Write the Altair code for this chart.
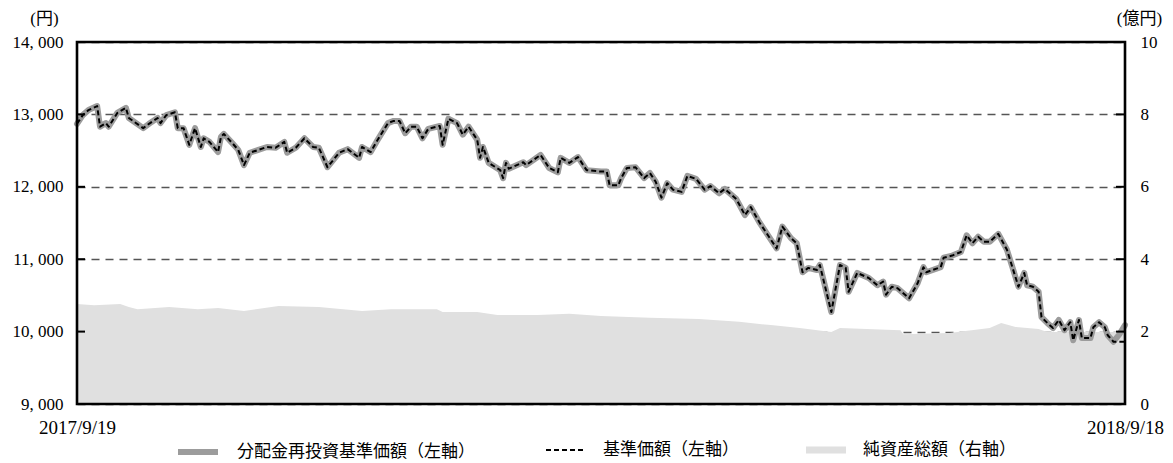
import altair as alt
import pandas as pd

START = pd.Timestamp("2017-09-19")

S1 = "分配金再投資基準価額（左軸）"
S2 = "基準価額（左軸）"
S3 = "純資産総額（右軸）"

# days since 2017/9/19
price_days = [0, 2, 4, 7, 8, 10, 11, 14, 17, 18,
              23, 25, 28, 29, 31, 34, 35, 37, 39, 41,
              43, 44, 46, 49, 50, 51, 54, 56, 58, 60,
              63, 66, 69, 72, 73, 76, 79, 82, 84, 87,
              91, 94, 98, 99, 102, 104, 108, 110, 112, 114,
              116, 118, 120, 122, 126, 127, 129, 132, 134, 136,
              139, 140, 141, 143, 147, 148, 149, 150, 155, 156,
              161, 164, 167, 168, 171, 174, 177, 182, 184, 185,
              188, 189, 191, 194, 197, 199, 201, 203, 205, 207,
              210, 212, 215, 218, 220, 223, 225, 229, 232, 234,
              237, 243, 245, 248, 250, 252, 254, 257, 258, 262,
              265, 267, 268, 271, 275, 278, 280, 281, 283, 285,
              289, 292, 294, 295, 300, 301, 304, 307, 309, 311,
              313, 315, 317, 320, 323, 327, 329, 330, 332, 334,
              335, 337, 339, 341, 343, 345, 346, 348, 349, 352,
              353, 355, 357, 358, 360, 362, 364]

base_price = [12870, 12990, 13060, 13115, 12830, 12880, 12830, 13020, 13090, 12950,
              12810, 12870, 12950, 12880, 12990, 13030, 12810, 12810, 12580, 12810,
              12550, 12670, 12620, 12480, 12690, 12730, 12600, 12510, 12300, 12470,
              12510, 12550, 12540, 12620, 12470, 12540, 12670, 12550, 12540, 12270,
              12470, 12520, 12400, 12550, 12480, 12620, 12880, 12910, 12910, 12740,
              12830, 12830, 12670, 12800, 12840, 12580, 12940, 12880, 12720, 12830,
              12650, 12400, 12550, 12330, 12230, 12120, 12330, 12250, 12340, 12300,
              12440, 12260, 12200, 12400, 12330, 12410, 12230, 12210, 12210, 12020,
              12020, 12120, 12260, 12270, 12120, 12190, 12070, 11850, 12050, 11960,
              11930, 12150, 12110, 11960, 12010, 11910, 11970, 11830, 11610, 11720,
              11510, 11150, 11450, 11290, 11220, 10820, 10880, 10850, 10920, 10270,
              10920, 10880, 10550, 10810, 10740, 10640, 10690, 10510, 10620, 10600,
              10460, 10670, 10890, 10820, 10890, 11020, 11050, 11100, 11330, 11220,
              11310, 11240, 11240, 11350, 11130, 10620, 10810, 10640, 10620, 10550,
              10200, 10120, 10050, 10160, 10020, 10130, 9880, 10160, 9910, 9910,
              10060, 10130, 10060, 9950, 9860, 9860, 9860]

reinvest_price = [12870, 12990, 13060, 13115, 12830, 12880, 12830, 13020, 13090, 12950,
                  12810, 12870, 12950, 12880, 12990, 13030, 12810, 12810, 12580, 12810,
                  12550, 12670, 12620, 12480, 12690, 12730, 12600, 12510, 12300, 12470,
                  12510, 12550, 12540, 12620, 12470, 12540, 12670, 12550, 12540, 12270,
                  12470, 12520, 12400, 12550, 12480, 12620, 12880, 12910, 12910, 12740,
                  12830, 12830, 12670, 12800, 12840, 12580, 12940, 12880, 12720, 12830,
                  12650, 12400, 12550, 12330, 12230, 12120, 12330, 12250, 12340, 12300,
                  12440, 12260, 12200, 12400, 12330, 12410, 12230, 12210, 12210, 12020,
                  12020, 12120, 12260, 12270, 12120, 12190, 12070, 11850, 12050, 11960,
                  11930, 12150, 12110, 11960, 12010, 11910, 11970, 11830, 11610, 11720,
                  11510, 11150, 11450, 11290, 11220, 10820, 10880, 10850, 10920, 10270,
                  10920, 10880, 10550, 10810, 10740, 10640, 10690, 10510, 10620, 10600,
                  10460, 10670, 10890, 10820, 10890, 11020, 11050, 11100, 11330, 11220,
                  11310, 11240, 11240, 11350, 11130, 10620, 10810, 10640, 10620, 10550,
                  10200, 10120, 10050, 10160, 10020, 10130, 9880, 10160, 9910, 9910,
                  10060, 10130, 10060, 9950, 9860, 9960, 10090]

net_days = [0, 6, 15, 18, 21, 32, 42, 49, 58, 70,
            84, 99, 109, 125, 127, 139, 146, 160, 171, 182,
            199, 216, 230, 241, 251, 262, 265, 286, 287, 303,
            317, 321, 326, 334, 337, 364]
net_assets = [2.76, 2.73, 2.76, 2.68, 2.62, 2.68, 2.62, 2.65, 2.57, 2.71,
              2.68, 2.57, 2.62, 2.62, 2.54, 2.54, 2.46, 2.46, 2.49, 2.43,
              2.38, 2.35, 2.27, 2.18, 2.10, 1.99, 2.10, 2.04, 1.93, 1.96,
              2.10, 2.24, 2.13, 2.07, 1.99, 1.99]

left_ticks = [9000, 10000, 11000, 12000, 13000, 14000]
right_ticks = [0, 2, 4, 6, 8, 10]

W, H = 1048, 362
SERIF = "Liberation Serif, Noto Sans CJK JP"
JP = "Noto Sans CJK JP"
LEG_Y = 387
GRAY, LIGHT = "#9c9c9c", "#e0e0e0"

price_dates = START + pd.to_timedelta(price_days, unit="D")
gray_df = pd.DataFrame({"date": price_dates, "value": reinvest_price, "series": S1})
base_df = pd.DataFrame({"date": price_dates, "value": base_price, "series": S2})
net_df = pd.DataFrame({"date": START + pd.to_timedelta(net_days, unit="D"),
                       "assets": net_assets, "series": S3})


def legend_at(x, **kw):
    return alt.Legend(title=None, orient="none", legendX=x, legendY=LEG_Y,
                      symbolSize=1600, labelOffset=16, labelFont=JP,
                      labelFontSize=17, labelColor="black", labelLimit=400,
                      padding=0, **kw)


x_axis = alt.Axis(values=[alt.DateTime(year=2017, month=9, date=19),
                          alt.DateTime(year=2018, month=9, date=18)],
                  format="%Y/%-m/%-d", ticks=False, domain=False, grid=False,
                  labelFont=SERIF, labelFontSize=19, labelPadding=14,
                  labelFlush=False, labelColor="black", title=None)
x_enc = alt.X("date:T", axis=x_axis,
              scale=alt.Scale(domain=[alt.DateTime(year=2017, month=9, date=19),
                                      alt.DateTime(year=2018, month=9, date=18)]))

left_scale = alt.Scale(domain=[9000, 14000], nice=False, zero=False)
right_scale = alt.Scale(domain=[0, 10], nice=False, zero=True)

left_axis = alt.Axis(values=left_ticks, orient="left",
                     labelExpr="replace(format(datum.value, ','), ',', ', ')",
                     ticks=False, domain=False, grid=True, gridDash=[8, 6],
                     gridColor="#555555", gridWidth=1.3, labelPadding=14,
                     labelFont=SERIF, labelFontSize=17, labelColor="black",
                     title="(円)", titleAngle=0, titleX=-33, titleY=-24,
                     titleAlign="center", titleBaseline="middle",
                     titleFont=SERIF, titleFontSize=17, titleFontWeight="normal",
                     titleColor="black")
right_axis = alt.Axis(values=right_ticks, orient="right", format="d",
                      ticks=False, domain=False, grid=False, labelPadding=15,
                      labelFont=SERIF, labelFontSize=17, labelColor="black",
                      title="(億円)", titleAngle=0, titleX=14, titleY=-24,
                      titleAlign="center", titleBaseline="middle",
                      titleFont=SERIF, titleFontSize=17, titleFontWeight="normal",
                      titleColor="black")

area = alt.Chart(net_df).mark_area(opacity=1, interpolate="linear").encode(
    x=x_enc,
    y=alt.Y("assets:Q", scale=right_scale, axis=right_axis),
    color=alt.Color("series:N", scale=alt.Scale(domain=[S3], range=[LIGHT]),
                    legend=legend_at(728, symbolType="M-1,-0.17H1V0.17H-1Z")),
)

gray_line = alt.Chart(gray_df).mark_line(
    strokeJoin="round", strokeCap="round", strokeWidth=6
).encode(
    x=x_enc,
    y=alt.Y("value:Q", scale=left_scale, axis=left_axis),
    color=alt.Color("series:N", scale=alt.Scale(domain=[S1], range=[GRAY]),
                    legend=legend_at(98, symbolType="stroke",
                                     symbolStrokeWidth=6)),
)

dash_line = alt.Chart(base_df).mark_line(
    strokeJoin="round", strokeWidth=2, strokeDash=[5, 3]
).encode(
    x=x_enc,
    y=alt.Y("value:Q", scale=left_scale, axis=None),
    color=alt.Color("series:N", scale=alt.Scale(domain=[S2], range=["#000000"]),
                    legend=legend_at(468, symbolType="stroke",
                                     symbolStrokeWidth=2, symbolDash=[5, 3])),
)

left_tick_rules = alt.Chart(pd.DataFrame({"v": left_ticks})).mark_rule(
    color="black", strokeWidth=2).encode(
    y=alt.Y("v:Q", scale=left_scale, axis=None),
    x=alt.value(0), x2=alt.value(8),
)
right_tick_rules = alt.Chart(pd.DataFrame({"v": right_ticks})).mark_rule(
    color="black", strokeWidth=2).encode(
    y=alt.Y("v:Q", scale=right_scale, axis=None),
    x=alt.value(W - 9), x2=alt.value(W),
)

frame = alt.Chart(pd.DataFrame({"f": [0]})).mark_rect(
    filled=False, stroke="black", strokeWidth=2.6).encode(
    x=alt.value(0), x2=alt.value(W), y=alt.value(0), y2=alt.value(H),
)

chart = alt.layer(
    area, gray_line, dash_line, left_tick_rules, right_tick_rules, frame
).resolve_scale(
    y="independent", color="independent",
).properties(
    width=W, height=H,
    padding={"left": 69, "top": 34, "right": 40, "bottom": 59},
    autosize=alt.AutoSizeParams(type="none"),
    background="white",
).configure_view(stroke=None)

chart.save("out.html", embed_options={"renderer": "svg", "actions": False})
